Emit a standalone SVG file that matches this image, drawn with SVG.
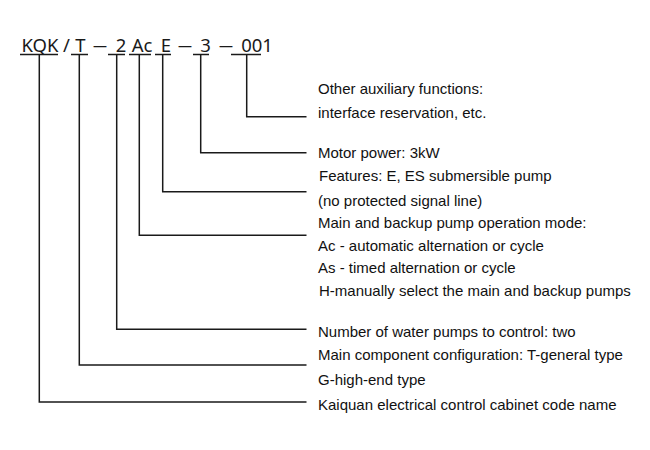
<svg xmlns="http://www.w3.org/2000/svg" width="650" height="450" viewBox="0 0 650 450">
<style>
.code{font-family:"Noto Sans","Open Sans",sans-serif;font-size:18.5px;fill:#1a1a1a;text-anchor:middle}
.lbl{font-family:"Liberation Sans",Arial,sans-serif;font-size:15px;fill:#111}
.ln{stroke:#1a1a1a;stroke-width:1.5;fill:none}
</style>
<rect width="650" height="450" fill="#fff"/>
<g id="code">
<text class="code" x="40" y="51.5">KQK</text>
<text class="code" x="66.5" y="51.5">/</text>
<text class="code" x="80.5" y="51.5">T</text>
<text class="code" x="100" y="51.5" textLength="14" lengthAdjust="spacingAndGlyphs">—</text>
<text class="code" x="121" y="51.5">2</text>
<text class="code" x="142" y="51.5">Ac</text>
<text class="code" x="166" y="51.5">E</text>
<text class="code" x="185" y="51.5" textLength="14" lengthAdjust="spacingAndGlyphs">—</text>
<text class="code" x="205.5" y="51.5">3</text>
<text class="code" x="226" y="51.5" textLength="14" lengthAdjust="spacingAndGlyphs">—</text>
<text class="code" x="257" y="51.5">001</text>
</g>
<g id="connectors">
<path class="ln" d="M20 54.5H58 M71 54.5H88 M108 54.5H125 M129 54.5H151 M155 54.5H171 M193 54.5H209 M231 54.5H261"/>
<path class="ln" d="M246.7 54.5V116.7H306.5"/>
<path class="ln" d="M200.7 54.5V152.7H306.5"/>
<path class="ln" d="M162.7 54.5V191.7H306.5"/>
<path class="ln" d="M139.3 54.5V235.3H306.5"/>
<path class="ln" d="M116.7 54.5V329.3H306.5"/>
<path class="ln" d="M79.3 54.5V365H306.5"/>
<path class="ln" d="M39.3 54.5V402H306.5"/>
</g>
<g id="labels">
<text class="lbl" x="318" y="94">Other auxiliary functions:</text>
<text class="lbl" x="318" y="118">interface reservation, etc.</text>
<text class="lbl" x="318" y="158">Motor power: 3kW</text>
<text class="lbl" x="319" y="181">Features: E, ES submersible pump</text>
<text class="lbl" x="318" y="206">(no protected signal line)</text>
<text class="lbl" x="318" y="228">Main and backup pump operation mode:</text>
<text class="lbl" x="318" y="251">Ac - automatic alternation or cycle</text>
<text class="lbl" x="318" y="273">As - timed alternation or cycle</text>
<text class="lbl" x="319" y="296">H-manually select the main and backup pumps</text>
<text class="lbl" x="318" y="337">Number of water pumps to control: two</text>
<text class="lbl" x="318" y="360">Main component configuration: T-general type</text>
<text class="lbl" x="318" y="385">G-high-end type</text>
<text class="lbl" x="318" y="410">Kaiquan electrical control cabinet code name</text>
</g>
</svg>
